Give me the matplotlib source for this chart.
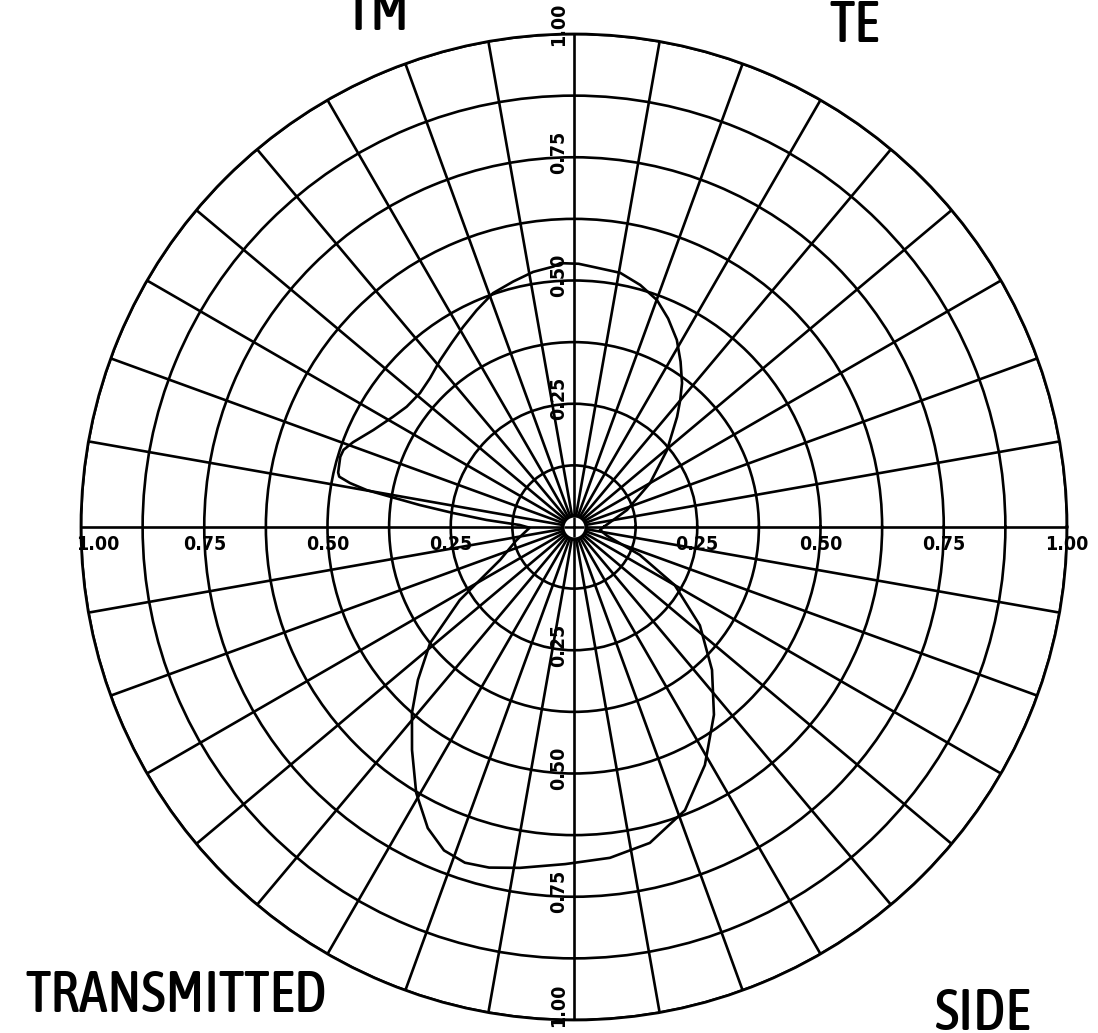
import numpy as np
import matplotlib
matplotlib.use("Agg")
import matplotlib.pyplot as plt
from matplotlib import font_manager
from matplotlib.font_manager import FontProperties

# Radiation pattern, read around the full circle (degrees, normalized amplitude)
pattern_theta_deg = [0, 17.8, 30, 39.6, 46.9, 50.1, 53.1, 57.2, 61.2, 65.7,
                     69.9, 74.7, 79.7, 85.8, 89, 93, 94.5, 99.1, 103.9, 109.1,
                     114.2, 119, 123.7, 128.7, 134.1, 139, 144.3, 148.7, 154.2,
                     159, 161.5, 163.3, 167, 167.9, 168.9, 169.9, 171.9, 173.4,
                     175.4, 177.9, 181, 193, 204, 212.6, 218.9, 224.4, 228.9,
                     234, 239.3, 244.1, 248.1, 252, 256, 261, 268.5, 276.2,
                     283.5, 291.4, 298.8, 306.7, 314, 322, 330, 337, 345,
                     353.4, 360]
pattern_r = [0.06, 0.113, 0.178, 0.245, 0.306, 0.336, 0.365, 0.399, 0.433,
             0.464, 0.49, 0.509, 0.524, 0.529, 0.534, 0.536, 0.530, 0.524,
             0.513, 0.502, 0.482, 0.464, 0.448, 0.434, 0.420, 0.414, 0.418,
             0.43, 0.452, 0.48, 0.493, 0.495, 0.491, 0.487, 0.463, 0.427,
             0.316, 0.247, 0.178, 0.11, 0.09, 0.12, 0.164, 0.275, 0.375,
             0.443, 0.50, 0.559, 0.627, 0.679, 0.707, 0.716, 0.712, 0.70,
             0.684, 0.675, 0.659, 0.617, 0.551, 0.475, 0.403, 0.324, 0.236,
             0.145, 0.07, 0.053, 0.06]

# Grid: rings every 0.125, spokes every 10 degrees
ring_radii = np.arange(0.125, 1.0001, 0.125)
spoke_angles = np.arange(0, 360, 10)

# Scale annotations on the four axis directions
scale_values = [0.25, 0.50, 0.75, 1.00]
scale_labels = ["0.25", "0.50", "0.75", "1.00"]

# Quadrant captions
captions = ["TM", "TE", "TRANSMITTED", "SIDE"]


def narrow_faces():
    keys = ("Narrow", "Condensed", "Cond")
    out = []
    for f in font_manager.fontManager.ttflist:
        if any(k in f.name for k in keys) or any(k in f.fname for k in keys) \
                or "condensed" in str(f.stretch):
            if "Oblique" in f.fname or "Italic" in f.fname:
                continue
            out.append(f)
    return out


faces = narrow_faces()


def weight_num(w):
    if isinstance(w, (int, float)):
        return w
    return {"regular": 400, "normal": 400, "medium": 500, "bold": 700,
            "semibold": 600, "light": 300}.get(str(w).lower(), 400)


if faces:
    reg = min(faces, key=lambda f: abs(weight_num(f.weight) - 550))
    bold = min(faces, key=lambda f: abs(weight_num(f.weight) - 700))
    caption_fp = FontProperties(fname=reg.fname, size=41.5)
    label_fp = FontProperties(fname=bold.fname, size=14)
else:
    caption_fp = FontProperties(family="Liberation Sans", weight="bold", size=30)
    label_fp = FontProperties(family="Liberation Sans", weight="bold", size=14)

W, H = 1098, 1033
fig = plt.figure(figsize=(W / 100, H / 100), dpi=100)
fig.patch.set_facecolor("white")

cx, cy, R = 574, 527, 493
ax = fig.add_axes([(cx - R) / W, (H - cy - R) / H, 2 * R / W, 2 * R / H],
                  projection="polar")
ax.set_theta_zero_location("E")
ax.set_theta_direction(1)
ax.set_ylim(0, 1)
ax.set_rticks(ring_radii)
ax.set_thetagrids(spoke_angles)
ax.set_xticklabels([])
ax.set_yticklabels([])
ax.tick_params(length=0)
ax.grid(True, color="black", linewidth=1.9)
ax.spines["polar"].set_linewidth(2.0)
ax.spines["polar"].set_color("black")
ax.set_facecolor("white")

# Pattern curve
ax.plot(np.deg2rad(pattern_theta_deg), pattern_r, color="black",
        linewidth=1.9, zorder=4, solid_joinstyle="round")

# Hub at the origin
ax.plot([0], [0], marker="o", markersize=17, markerfacecolor="white",
        markeredgecolor="black", markeredgewidth=2.6, zorder=5, clip_on=False)
ax.plot([0], [0], marker="+", markersize=15, markeredgecolor="black",
        markeredgewidth=1.8, zorder=6, clip_on=False)

pt = 72 / 100  # points per pixel
txt_kw = dict(fontproperties=label_fp, color="black",
              textcoords="offset points", zorder=7, annotation_clip=False)

# Horizontal scale (left and right)
for v, s in zip(scale_values, scale_labels):
    for ang in (0, 180):
        dx = 17 * pt if (ang == 180 and v == 1.0) else 0
        ax.annotate(s, xy=(np.deg2rad(ang), v), xytext=(dx, -17 * pt),
                    ha="center", va="center", **txt_kw)

# Vertical scale (top and bottom), rotated
for v, s in zip(scale_values, scale_labels):
    for ang in (90, 270):
        if v == 1.0:
            dy = 15 if ang == 270 else 10
        else:
            dy = 5
        ax.annotate(s, xy=(np.deg2rad(ang), v), xytext=(-15 * pt, dy * pt),
                    ha="center", va="center", rotation=90, **txt_kw)

cap_kw = dict(fontproperties=caption_fp, color="black", va="baseline",
              ha="left")
fig.text(346 / W, 1 - 30 / H, captions[0], **cap_kw)
fig.text(830 / W, 1 - 42 / H, captions[1], **cap_kw)
fig.text(25 / W, 1 - 1012 / H, captions[2], **cap_kw)
fig.text(935 / W, 1 - 1030 / H, captions[3], **cap_kw)

fig.savefig("out.png", dpi=100, facecolor="white")
